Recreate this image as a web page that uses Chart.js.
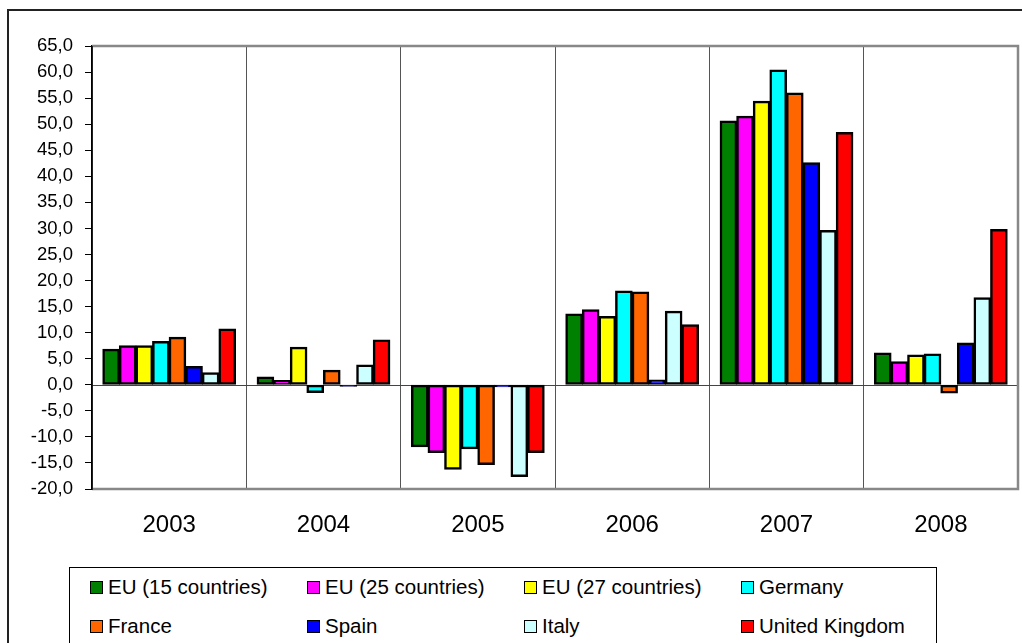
<!DOCTYPE html>
<html lang="en">

<head>
    <meta charset="UTF-8">
    <title>Growth by country 2003-2008</title>
    <script src="https://cdn.jsdelivr.net/npm/chart.js"></script>
    <style>
        html, body { margin: 0; padding: 0; background: #fff; overflow: hidden; }
        #wrap { position: relative; width: 1022px; height: 643px; overflow: hidden; }
        #frame {
            position: absolute; left: 7px; top: 9px; width: 1100px; height: 700px;
            border: 2px solid #222; box-sizing: border-box;
        }
        #grafico { position: absolute; left: 0; top: 0; }
        #legenda {
            position: absolute; left: 69px; top: 567px; width: 868px; height: 80px;
            border: 1.5px solid #000; box-sizing: border-box; background: #fff;
            display: grid; grid-template-columns: 217px 217px 217px 217px;
            padding-left: 20px;
            font-family: "Liberation Sans", Arial, sans-serif; font-size: 20.5px; color: #000;
        }
        .item { height: 38px; display: flex; align-items: center; white-space: nowrap; }
        .caixa { width: 11px; height: 11px; border: 1.5px solid #000; margin-right: 5px; }
    </style>
</head>

<body>
    <div id="wrap">
        <div id="frame"></div>
        <canvas id="grafico" width="1022" height="643"></canvas>
        <div id="legenda"></div>
    </div>

    <script>
        // dados
        const anos = ['2003', '2004', '2005', '2006', '2007', '2008'];
        const paises = ['EU (15 countries)', 'EU (25 countries)', 'EU (27 countries)', 'Germany',
            'France', 'Spain', 'Italy', 'United Kingdom'];
        const cores = ['#008000', '#FF00FF', '#FFFF00', '#00FFFF', '#FF6600', '#0000FF', '#CCFFFF', '#FF0000'];

        const eu15 = [6.8, 1.5, -11.9, 13.6, 50.6, 6.1];
        const eu25 = [7.5, 0.8, -13.0, 14.4, 51.5, 4.4];
        const eu27 = [7.5, 7.2, -16.2, 13.1, 54.4, 5.7];
        const germany = [8.3, -1.5, -12.3, 18.0, 60.4, 5.9];
        const france = [9.1, 2.8, -15.3, 17.8, 56.0, -1.6];
        const spain = [3.5, -0.3, -0.4, 0.9, 42.6, 8.0];
        const italy = [2.3, 3.8, -17.6, 14.1, 29.6, 16.7];
        const uk = [10.7, 8.6, -13.0, 11.5, 48.4, 29.8];

        const series = [eu15, eu25, eu27, germany, france, spain, italy, uk];

        // linha do zero e moldura da área do gráfico
        const moldura = {
            id: 'moldura',
            beforeDatasetsDraw(chart) {
                const { ctx, chartArea } = chart;
                const y0 = Math.round(chart.scales.y.getPixelForValue(0)) + 0.5;
                ctx.save();
                ctx.strokeStyle = '#444';
                ctx.lineWidth = 1;
                ctx.beginPath();
                ctx.moveTo(chartArea.left, y0);
                ctx.lineTo(chartArea.right, y0);
                ctx.stroke();
                ctx.restore();
            },
            afterDraw(chart) {
                const { ctx, chartArea } = chart;
                ctx.save();
                ctx.strokeStyle = '#888';
                ctx.lineWidth = 2.5;
                ctx.beginPath();
                ctx.moveTo(chartArea.left, chartArea.top);
                ctx.lineTo(chartArea.right, chartArea.top);
                ctx.lineTo(chartArea.right, chartArea.bottom);
                ctx.lineTo(chartArea.left, chartArea.bottom);
                ctx.stroke();
                ctx.strokeStyle = '#000';
                ctx.lineWidth = 1.5;
                ctx.beginPath();
                ctx.moveTo(chartArea.left, chartArea.top);
                ctx.lineTo(chartArea.left, chartArea.bottom + 1);
                ctx.stroke();
                ctx.restore();
            }
        };

        const fonte = '"Liberation Sans", Arial, sans-serif';

        const myChart = new Chart(document.getElementById('grafico'), {
            type: 'bar',
            data: {
                labels: anos,
                datasets: paises.map((nome, i) => ({
                    label: nome,
                    data: series[i],
                    backgroundColor: cores[i],
                    borderColor: '#000000',
                    borderWidth: 2.5,
                    borderSkipped: false,
                    inflateAmount: 0.5,
                    categoryPercentage: 0.86,
                    barPercentage: 1.0
                }))
            },
            options: {
                responsive: false,
                animation: false,
                layout: { padding: { left: 0, top: 46, right: 4, bottom: 104 } },
                plugins: {
                    legend: { display: false },
                    tooltip: { enabled: false }
                },
                scales: {
                    x: {
                        grid: { offset: true, color: '#555', lineWidth: 1, drawTicks: false },
                        border: { display: false },
                        ticks: { color: '#000', padding: 22, font: { family: fonte, size: 24 } },
                        afterFit: (scale) => { scale.height = 50; }
                    },
                    y: {
                        min: -20,
                        max: 65,
                        grid: { drawOnChartArea: false, drawTicks: true, tickLength: 7, color: '#000' },
                        border: { display: true, color: '#000', width: 1.5 },
                        ticks: {
                            stepSize: 5,
                            color: '#000',
                            padding: 12,
                            font: { family: fonte, size: 18.5 },
                            callback: (v) => v.toFixed(1).replace('.', ',')
                        },
                        afterFit: (scale) => { scale.width = 92; }
                    }
                }
            },
            plugins: [moldura]
        });

        // legenda em HTML com 4 colunas
        const legenda = document.getElementById('legenda');
        myChart.data.datasets.forEach((ds) => {
            const item = document.createElement('div');
            item.className = 'item';
            const caixa = document.createElement('span');
            caixa.className = 'caixa';
            caixa.style.background = ds.backgroundColor;
            item.appendChild(caixa);
            item.appendChild(document.createTextNode(ds.label));
            legenda.appendChild(item);
        });
    </script>
</body>

</html>
